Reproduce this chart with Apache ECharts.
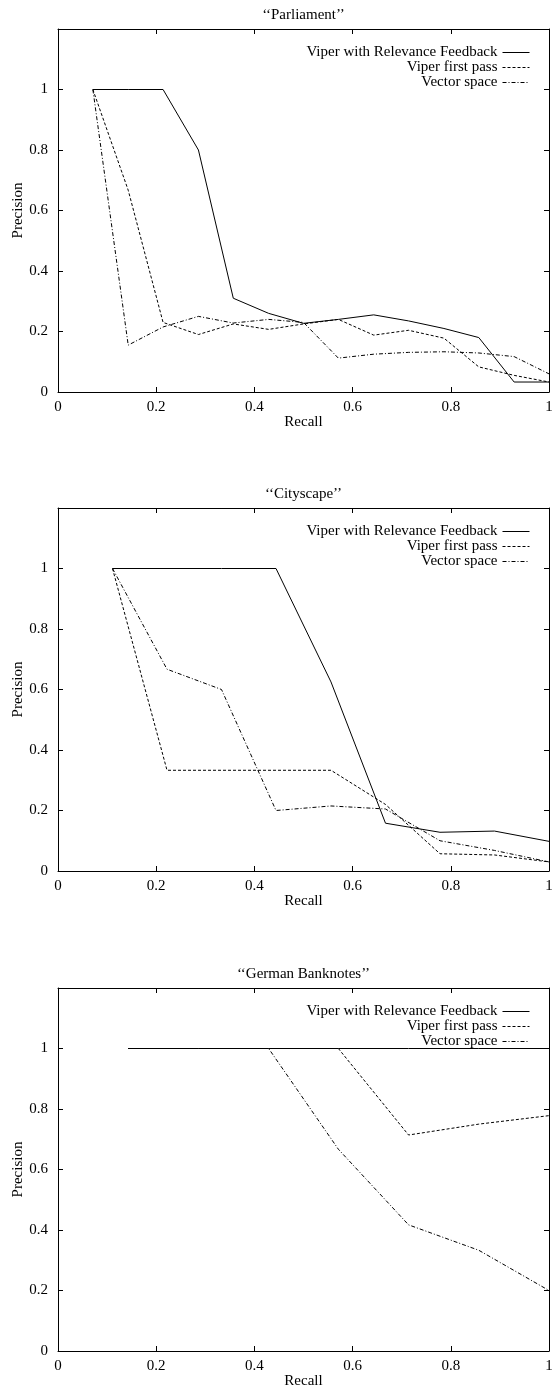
<!DOCTYPE html>
<html>
<head>
<meta charset="utf-8">
<script src="https://cdn.jsdelivr.net/npm/echarts@6/dist/echarts.min.js"></script>
<style>
  html, body { margin: 0; padding: 0; background: #fff; }
  #chart { width: 556px; height: 1387px; }
</style>
</head>
<body>
<div id="chart"></div>
<script>
// ---- Data ----
const plotTitles = ['‘‘Parliament’’', '‘‘Cityscape’’', '‘‘German Banknotes’’'];
const seriesNames = ['Viper with Relevance Feedback', 'Viper first pass', 'Vector space'];
const xTickLabels = ['0', '0.2', '0.4', '0.6', '0.8', '1'];
const yTickLabels = ['0', '0.2', '0.4', '0.6', '0.8', '1'];

const recallParliament = [0.071, 0.143, 0.214, 0.286, 0.357, 0.429, 0.5, 0.571, 0.643, 0.714, 0.786, 0.857, 0.929, 1.0];
const parliamentRF     = [1, 1, 1, 0.8, 0.31, 0.26, 0.227, 0.24, 0.255, 0.235, 0.21, 0.18, 0.033, 0.033];
const parliamentFirst  = [1, 0.667, 0.23, 0.19, 0.225, 0.207, 0.225, 0.24, 0.188, 0.204, 0.178, 0.083, 0.055, 0.033];
const parliamentVector = [1, 0.155, 0.215, 0.25, 0.228, 0.24, 0.23, 0.112, 0.125, 0.131, 0.133, 0.129, 0.117, 0.06];

const recallCityscape = [0.111, 0.222, 0.333, 0.444, 0.556, 0.667, 0.778, 0.889, 1.0];
const cityscapeRF     = [1, 1, 1, 1, 0.625, 0.158, 0.128, 0.132, 0.098];
const cityscapeFirst  = [1, 0.333, 0.333, 0.333, 0.333, 0.22, 0.057, 0.053, 0.03];
const cityscapeVector = [1, 0.667, 0.6, 0.2, 0.215, 0.205, 0.1, 0.068, 0.03];

const recallBanknotes = [0.143, 0.286, 0.429, 0.571, 0.714, 0.857, 1.0];
const banknotesRF     = [1, 1, 1, 1, 1, 1, 1];
const banknotesFirst  = [1, 1, 1, 1, 0.714, 0.75, 0.778];
const banknotesVector = [1, 1, 1, 0.667, 0.417, 0.333, 0.2];

const plots = [
  { recall: recallParliament, values: [parliamentRF, parliamentFirst, parliamentVector] },
  { recall: recallCityscape,  values: [cityscapeRF, cityscapeFirst, cityscapeVector] },
  { recall: recallBanknotes,  values: [banknotesRF, banknotesFirst, banknotesVector] }
];

// ---- Styles ----
const FONT = 'Liberation Serif, Times New Roman, serif';
const FS = 15;
const lineTypes = ['solid', [3, 2], [4, 2, 1, 2]];
const gridTops = [29, 508, 988];
const gridH = 363;
const gridLeft = 58;
const gridW = 491;

const grids = [], xAxes = [], yAxes = [], series = [], titles = [], legends = [];

gridTops.forEach((top, i) => {
  grids.push({ left: gridLeft, top: top, width: gridW, height: gridH, containLabel: false, outerBoundsMode: 'none' });
  titles.push({
    text: plotTitles[i], left: gridLeft + gridW / 2, top: top - 21, textAlign: 'center', padding: 0,
    textStyle: { fontFamily: FONT, fontSize: FS, fontWeight: 'normal', color: '#000' }
  });
  const axLine = { show: true, onZero: false, lineStyle: { color: '#000', width: 1 } };
  const axTick = { show: true, inside: true, length: 5, lineStyle: { color: '#000', width: 1 } };
  xAxes.push({
    gridIndex: i, type: 'value', position: 'bottom', min: 0, max: 1, interval: 0.2,
    name: 'Recall', nameLocation: 'middle', nameGap: 23, nameMoveOverlap: false,
    nameTextStyle: { fontFamily: FONT, fontSize: FS, color: '#000' },
    axisLine: axLine, axisTick: axTick, splitLine: { show: false },
    axisLabel: { margin: 8, fontFamily: FONT, fontSize: FS, color: '#000',
      formatter: v => xTickLabels[Math.round(v / 0.2)] }
  });
  xAxes.push({
    gridIndex: i, type: 'value', position: 'top', min: 0, max: 1, interval: 0.2,
    axisLine: axLine, axisTick: axTick, splitLine: { show: false }, axisLabel: { show: false }
  });
  yAxes.push({
    gridIndex: i, type: 'value', position: 'left', min: 0, max: 1.2, interval: 0.2,
    name: 'Precision', nameLocation: 'middle', nameGap: 32, nameRotate: 90, nameMoveOverlap: false,
    nameTextStyle: { fontFamily: FONT, fontSize: FS, color: '#000' },
    axisLine: axLine, axisTick: axTick, splitLine: { show: false },
    axisLabel: { margin: 10, fontFamily: FONT, fontSize: FS, color: '#000',
      formatter: v => { const k = Math.round(v / 0.2); return k < yTickLabels.length ? yTickLabels[k] : ''; } }
  });
  yAxes.push({
    gridIndex: i, type: 'value', position: 'right', min: 0, max: 1.2, interval: 0.2,
    axisLine: axLine, axisTick: axTick, splitLine: { show: false }, axisLabel: { show: false }
  });
  const p = plots[i];
  p.values.forEach((vals, s) => {
    series.push({
      name: seriesNames[s], type: 'line', xAxisIndex: 2 * i, yAxisIndex: 2 * i,
      data: p.recall.map((r, k) => [r, vals[k]]),
      symbol: 'none', showSymbol: false, silent: true, animation: false,
      lineStyle: { color: '#000', width: 1, type: lineTypes[s] },
      itemStyle: { color: '#000' }
    });
  });
  legends.push({
    orient: 'vertical', align: 'right', right: 26, top: top + 16,
    itemWidth: 27, itemHeight: 15, itemGap: 0, padding: 0,
    selectedMode: false,
    textStyle: { fontFamily: FONT, fontSize: FS, color: '#000' },
    data: seriesNames.map((n, s) => ({ name: n,
      itemStyle: { opacity: 0 },
      lineStyle: { color: '#000', width: 1, type: lineTypes[s], opacity: 1 } }))
  });
});

const chart = echarts.init(document.getElementById('chart'), null, { renderer: 'canvas' });
chart.setOption({
  backgroundColor: '#fff',
  animation: false,
  title: titles,
  legend: legends,
  grid: grids,
  xAxis: xAxes,
  yAxis: yAxes,
  series: series
});
</script>
</body>
</html>
